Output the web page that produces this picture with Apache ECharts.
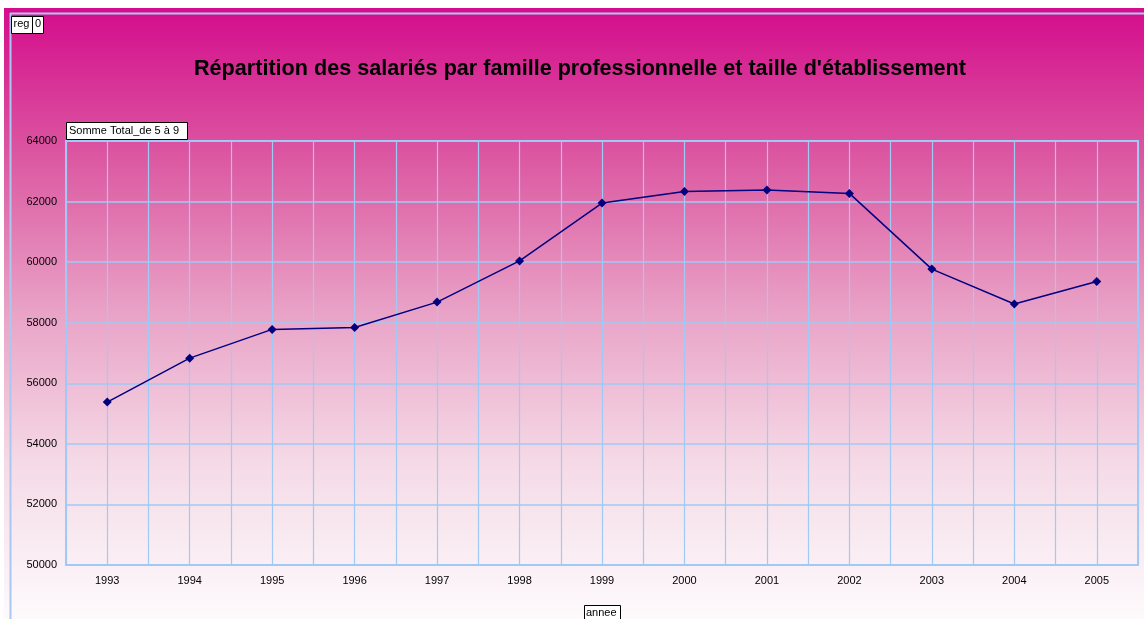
<!DOCTYPE html>
<html>
<head>
<meta charset="utf-8">
<script src="https://cdn.jsdelivr.net/npm/echarts@6/dist/echarts.min.js"></script>
<style>
html,body{margin:0;padding:0;background:#fff;}
#c{width:1144px;height:619px;}
</style>
</head>
<body>
<div id="c"></div>
<script>
const years = [1993,1994,1995,1996,1997,1998,1999,2000,2001,2002,2003,2004,2005];
const values = [55380,56830,57780,57840,58680,60040,61950,62330,62380,62270,59770,58620,59360];
const yTicks = {min:50000, max:64000, step:2000};
const titleText = "Répartition des salariés par famille professionnelle et taille d'établissement";
const seriesName = "Somme Total_de 5 à 9";
const axisName = "annee";

const chart = echarts.init(document.getElementById('c'), null, {renderer:'canvas'});
const font = 'Liberation Sans, Arial, sans-serif';
const gridColor = '#9fcaf5';
chart.setOption({
  backgroundColor:'#ffffff',
  animation:false,
  graphic:[
    {type:'rect', z:-10, silent:true, shape:{x:4,y:8,width:1140,height:611},
     style:{fill:new echarts.graphic.LinearGradient(0,0,0,1,[
       {offset:0,color:'#d40c8c'},
       {offset:0.25,color:'#dc5aa2'},
       {offset:0.5,color:'#e9a3c7'},
       {offset:0.75,color:'#f5dbe7'},
       {offset:1,color:'#fdfafc'}])}},
    {type:'line', z:-5, silent:true, shape:{x1:10,y1:13.5,x2:1144,y2:13.5}, style:{stroke:'#a9c8f0',lineWidth:2}},
    {type:'line', z:-5, silent:true, shape:{x1:10.5,y1:13,x2:10.5,y2:619}, style:{stroke:'#a9c8f0',lineWidth:2}},
    {type:'group', left:11, top:16, children:[
      {type:'rect', shape:{x:0,y:0,width:21,height:17}, style:{fill:'#fff',stroke:'#000',lineWidth:1}},
      {type:'text', x:2, y:2, style:{text:'reg', font:'11px '+font, fill:'#000'}},
      {type:'rect', shape:{x:21,y:0,width:11,height:17}, style:{fill:'#fff',stroke:'#000',lineWidth:1}},
      {type:'text', x:23.5, y:2, style:{text:'0', font:'11px '+font, fill:'#000'}}
    ]},
    {type:'group', left:66, top:122, children:[
      {type:'rect', shape:{x:0.5,y:0.5,width:121,height:17}, style:{fill:'#fff',stroke:'#000',lineWidth:1}},
      {type:'text', x:3, y:3, style:{text:seriesName, font:'11px '+font, fill:'#000'}}
    ]},
    {type:'group', left:584, top:605, children:[
      {type:'rect', shape:{x:0.5,y:0.5,width:36,height:16}, style:{fill:'#fff',stroke:'#000',lineWidth:1}},
      {type:'text', x:2, y:2, style:{text:axisName, font:'11px '+font, fill:'#000'}}
    ]},
    {type:'text', left:194, top:58, style:{text:titleText, font:'bold 21.6px '+font, fill:'#000'}}
  ],
  grid:{left:66, top:141, right:6, bottom:54, show:true, borderColor:gridColor, borderWidth:2, backgroundColor:'transparent'},
  xAxis:{type:'value', min:1992.5, max:2005.5, interval:0.5,
    axisLine:{show:false}, axisTick:{show:false},
    axisLabel:{margin:10, fontFamily:font, fontSize:11, color:'#000',
      formatter:v=> (Math.abs(v-Math.round(v))<1e-6 ? String(Math.round(v)) : '')},
    splitLine:{show:true, lineStyle:{color:gridColor, width:1.2}}},
  yAxis:{type:'value', min:yTicks.min, max:yTicks.max, interval:yTicks.step,
    axisLine:{show:false}, axisTick:{show:false},
    axisLabel:{margin:9, fontFamily:font, fontSize:11, color:'#000', formatter:v=>String(v)},
    splitLine:{show:true, lineStyle:{color:gridColor, width:1.5}}},
  series:[{type:'line', name:seriesName,
    data: years.map((y,i)=>[y, values[i]]),
    symbol:'diamond', symbolSize:9,
    lineStyle:{color:'#000080', width:1.5},
    itemStyle:{color:'#000080'}}]
});
</script>
</body>
</html>
